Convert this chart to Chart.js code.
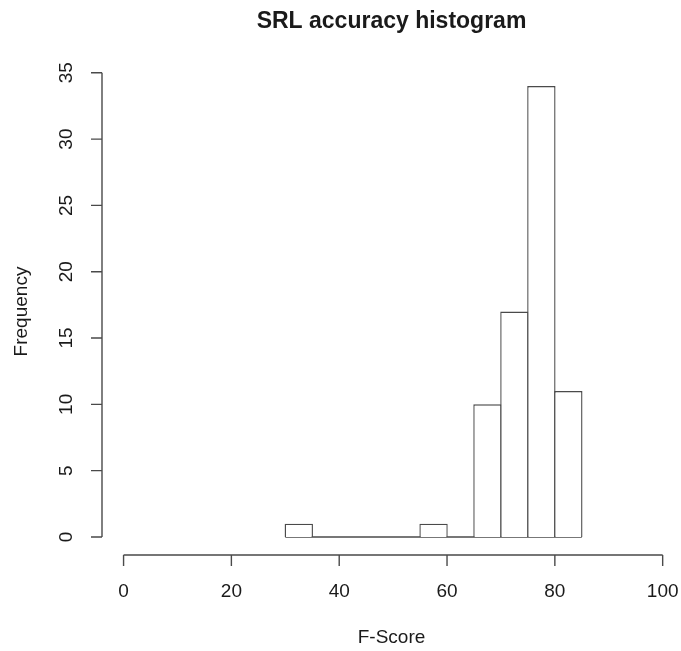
<!DOCTYPE html>
<html lang="en">
<head>
    <meta charset="UTF-8">
    <title>SRL accuracy histogram</title>
    <script src="https://cdn.jsdelivr.net/npm/chart.js"></script>
    <style>
        html, body { margin: 0; padding: 0; background: #fff; }
        #chart-container { width: 681px; height: 651px; }
    </style>
</head>
<body>
    <div id="chart-container">
        <canvas id="chart" width="681" height="651"></canvas>
    </div>
    <script type="text/javascript">
        // histogram bins (F-Score), width 5
        var binStarts = [30, 35, 40, 45, 50, 55, 60, 65, 70, 75, 80];
        var binWidth = 5;
        var counts = [1, 0, 0, 0, 0, 1, 0, 10, 17, 34, 11];
        var xTicks = [0, 20, 40, 60, 80, 100];
        var yTicks = [0, 5, 10, 15, 20, 25, 30, 35];

        var titleText = 'SRL accuracy histogram';
        var xTitle = 'F-Score';
        var yTitle = 'Frequency';

        var lineColor = '#4a4a4a';
        var textColor = '#1a1a1a';

        var barData = binStarts.map(function(s, i) {
            return { x: s + binWidth / 2, y: counts[i] };
        });
        var baseData = [
            { x: binStarts[0], y: 0 },
            { x: binStarts[binStarts.length - 1] + binWidth, y: 0 }
        ];

        // R style axes, drawn from the chart's own scales
        var rAxes = {
            id: 'rAxes',
            afterDraw: function(chart) {
                var ctx = chart.ctx;
                var xs = chart.scales.x;
                var ys = chart.scales.y;
                var tick = 11;
                var xAxisY = ys.bottom;
                var yAxisX = xs.left;

                ctx.save();
                ctx.strokeStyle = lineColor;
                ctx.lineWidth = 1.4;

                // x axis
                ctx.beginPath();
                ctx.moveTo(xs.getPixelForValue(xTicks[0]), xAxisY);
                ctx.lineTo(xs.getPixelForValue(xTicks[xTicks.length - 1]), xAxisY);
                xTicks.forEach(function(v) {
                    var px = xs.getPixelForValue(v);
                    ctx.moveTo(px, xAxisY);
                    ctx.lineTo(px, xAxisY + tick);
                });
                ctx.stroke();

                // y axis
                ctx.beginPath();
                ctx.moveTo(yAxisX, ys.getPixelForValue(yTicks[0]));
                ctx.lineTo(yAxisX, ys.getPixelForValue(yTicks[yTicks.length - 1]));
                yTicks.forEach(function(v) {
                    var py = ys.getPixelForValue(v);
                    ctx.moveTo(yAxisX, py);
                    ctx.lineTo(yAxisX - tick, py);
                });
                ctx.stroke();

                ctx.fillStyle = textColor;
                ctx.font = '19px "Liberation Sans", Arial, sans-serif';
                ctx.textAlign = 'center';
                ctx.textBaseline = 'middle';
                xTicks.forEach(function(v) {
                    ctx.fillText(String(v), xs.getPixelForValue(v), 592);
                });
                yTicks.forEach(function(v) {
                    ctx.save();
                    ctx.translate(67, ys.getPixelForValue(v));
                    ctx.rotate(-Math.PI / 2);
                    ctx.fillText(String(v), 0, 0);
                    ctx.restore();
                });

                var cx = (xs.left + xs.right) / 2;
                var cy = (ys.top + ys.bottom) / 2;
                ctx.fillText(xTitle, cx, 638);
                ctx.save();
                ctx.translate(22, cy);
                ctx.rotate(-Math.PI / 2);
                ctx.fillText(yTitle, 0, 0);
                ctx.restore();

                ctx.font = 'bold 23px "Liberation Sans", Arial, sans-serif';
                ctx.fillText(titleText, cx, 22);
                ctx.restore();
            }
        };

        var ctx = document.getElementById('chart').getContext('2d');
        var chart = new Chart(ctx, {
            type: 'bar',
            data: {
                datasets: [{
                    label: 'counts',
                    data: barData,
                    backgroundColor: '#ffffff',
                    borderColor: lineColor,
                    borderWidth: 1.4,
                    borderSkipped: 'start',
                    inflateAmount: 0,
                    barPercentage: 1.052, // neighbours share one edge line
                    categoryPercentage: 1
                }, {
                    type: 'line',
                    label: 'base',
                    data: baseData,
                    borderColor: lineColor,
                    borderWidth: 1.4,
                    pointRadius: 0,
                    fill: false
                }]
            },
            options: {
                responsive: false,
                animation: false,
                devicePixelRatio: 1,
                layout: { padding: { left: 102, right: 0, top: 68, bottom: 96 } },
                plugins: {
                    legend: { display: false },
                    title: { display: false },
                    tooltip: { enabled: false }
                },
                scales: {
                    x: {
                        type: 'linear', min: -4, max: 103.4, offset: false, display: false,
                        afterBuildTicks: function(scale) {
                            scale.ticks = xTicks.map(function(v) { return { value: v }; });
                        }
                    },
                    y: { type: 'linear', min: -1.36, max: 35.36, display: false }
                }
            },
            plugins: [rAxes]
        });
    </script>
</body>
</html>
